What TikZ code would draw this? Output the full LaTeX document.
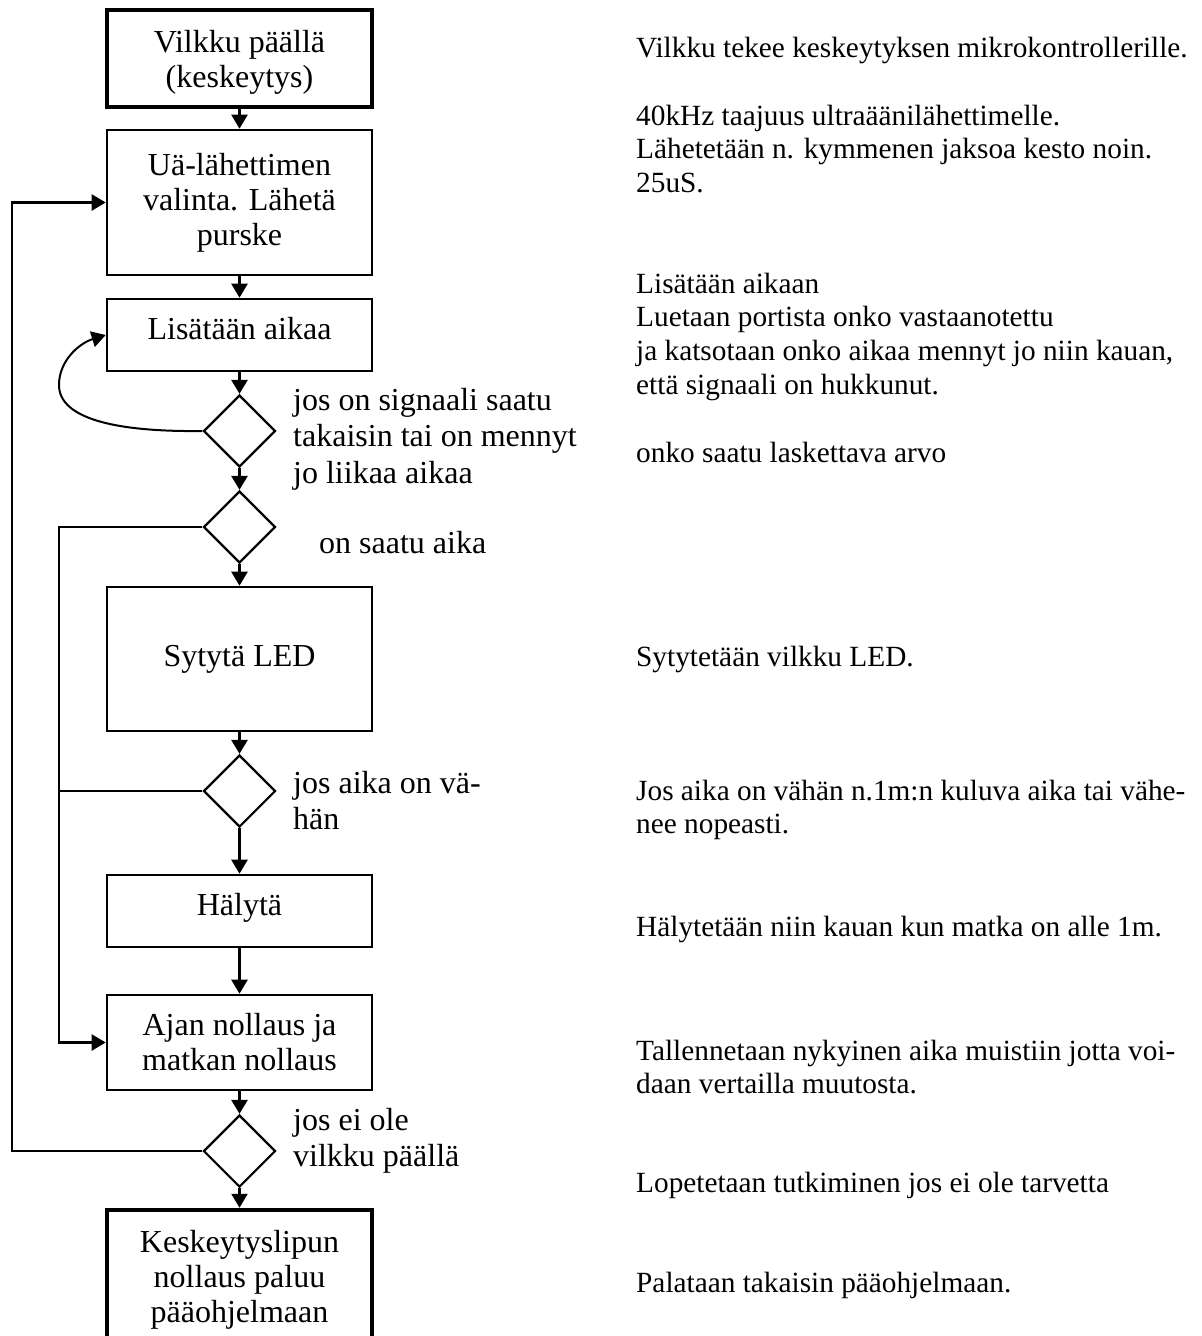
\documentclass[tikz,border=0pt]{standalone}
\usepackage{fontspec}
\setmainfont{Liberation Serif}
\usetikzlibrary{shapes.geometric,arrows.meta}
\begin{document}
\begin{tikzpicture}[x=1pt,y=-1pt,
  box/.style={draw, line width=2.6pt, rectangle, minimum width=265pt, inner sep=0pt,
              align=center, font=\fontsize{32}{35}\selectfont},
  startend/.style={box, line width=4.5pt},
  decision/.style={draw, line width=2.2pt, diamond, minimum width=72pt,
                   minimum height=72pt, inner sep=0pt},
  tip/.style={-{Triangle[length=14pt,width=16pt]}},
  link/.style={line width=2.4pt},
  arr/.style={link, tip},
  lbl/.style={anchor=north west, inner sep=0pt, align=left,
              font=\fontsize{32}{36.5}\selectfont},
  note/.style={anchor=north west, inner sep=0pt, align=left,
               font=\fontsize{29.3}{33.7}\selectfont},
]
\useasboundingbox (0,0) rectangle (1202,1336);
\clip (0,0) rectangle (1202,1336);

% flow column
\node[startend, minimum height=97pt]  (b1) at (239.5,58.5)  {\rule{0pt}{29pt}Vilkku päällä\\(keskeytys)};
\node[box, minimum height=145pt]      (b2) at (239.5,202.5) {Uä-lähettimen\\valinta. Lähetä\\purske};
\node[box, minimum height=72pt, text depth=14pt] (b3) at (239.5,335) {Lisätään aikaa};
\node[decision]                       (d1) at (239.5,431)   {};
\node[decision]                       (d2) at (239.5,527)   {};
\node[box, minimum height=144pt]      (b4) at (239.5,659)   {Sytytä LED};
\node[decision]                       (d3) at (239.5,791)   {};
\node[box, minimum height=72pt, text depth=14pt] (b5) at (239.5,911) {Hälytä};
\node[box, minimum height=95pt]       (b6) at (239.5,1042.5){Ajan nollaus ja\\matkan nollaus};
\node[decision]                       (d4) at (239.5,1151)  {};
\node[startend, minimum height=140pt] (b7) at (239.5,1280)  {Keskeytyslipun\\nollaus paluu\\pääohjelmaan};

% straight flow
\draw[arr] (b1.south) -- (b2.north);
\draw[arr] (b2.south) -- (b3.north);
\draw[arr] (b3.south) -- (d1.north);
\draw[arr] (d1.south) -- (d2.north);
\draw[arr] (d2.south) -- (b4.north);
\draw[arr] (b4.south) -- (d3.north);
\draw[arr] (d3.south) -- (b5.north);
\draw[arr] (b5.south) -- (b6.north);
\draw[arr] (b6.south) -- (d4.north);
\draw[arr] (d4.south) -- (b7.north);

% waiting loop
\coordinate (loopL) at (59,385);
\draw[line width=2pt, tip] (d1.west) .. controls (120,432) and (59,420) .. (loopL)
      .. controls (59,360) and (80,343) .. (b3.west);

% side branches
\coordinate (leftA) at (59,527);
\draw[arr] (d2.west) -- (leftA) |- (b6.west);
\draw[link] (d3.west) -- (d3.west -| leftA);
\coordinate (leftB) at (12,1151);
\draw[arr] (d4.west) -- (leftB) |- (b2.west);

% decision labels
\node[lbl] (l1) at (293,384.5)  {\strut jos on signaali saatu\\takaisin tai on mennyt\\jo liikaa aikaa};
\node[lbl] (l2) at (319,527.5)  {\strut on saatu aika};
\node[lbl] (l3) at (293,767.5)  {\strut jos aika on vä-\\hän};
\node[lbl] (l4) at (293,1104.5) {\strut jos ei ole\\vilkku päällä};

% explanations
\node[note] (n1)  at (636,33.4)   {\strut Vilkku tekee keskeytyksen mikrokontrollerille.};
\node[note] (n2)  at (636,101.4)  {\strut 40kHz taajuus ultraäänilähettimelle.\\Lähetetään n. kymmenen jaksoa kesto noin.\\25uS.};
\node[note] (n3)  at (636,269.4)  {\strut Lisätään aikaan\\Luetaan portista onko vastaanotettu\\ja katsotaan onko aikaa mennyt jo niin kauan,\\että signaali on hukkunut.};
\node[note] (n4)  at (636,438.4)  {\strut onko saatu laskettava arvo};
\node[note] (n5)  at (636,642.4)  {\strut Sytytetään vilkku LED.};
\node[note] (n6)  at (636,776.4)  {\strut Jos aika on vähän n.1m:n kuluva aika tai vähe-\\nee nopeasti.};
\node[note] (n7)  at (636,912.4)  {\strut Hälytetään niin kauan kun matka on alle 1m.};
\node[note] (n8)  at (636,1036.4) {\strut Tallennetaan nykyinen aika muistiin jotta voi-\\daan vertailla muutosta.};
\node[note] (n9)  at (636,1168.4) {\strut Lopetetaan tutkiminen jos ei ole tarvetta};
\node[note] (n10) at (636,1268.4) {\strut Palataan takaisin pääohjelmaan.};
\end{tikzpicture}
\end{document}
